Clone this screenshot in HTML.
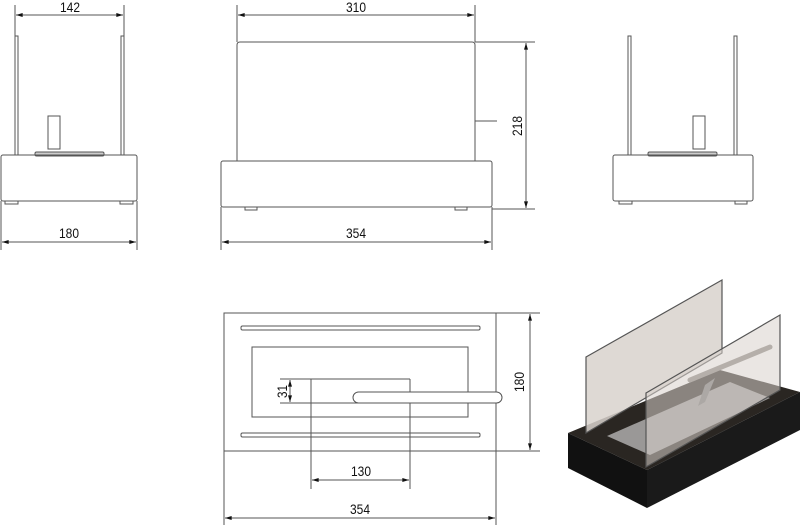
<!DOCTYPE html>
<html><head><meta charset="utf-8"><style>
html,body{margin:0;padding:0;background:#fff;}
svg{display:block}
text{font-family:"Liberation Sans",sans-serif;font-size:14px;fill:#111}
</style></head><body>
<svg width="800" height="528" viewBox="0 0 800 528" xmlns="http://www.w3.org/2000/svg">
<defs>
<marker id="a" viewBox="0 0 10 6" refX="10" refY="3" markerWidth="10" markerHeight="4" orient="auto-start-reverse" markerUnits="userSpaceOnUse"><path d="M0,0L10,3L0,6z" fill="#111"/></marker>
</defs>
<g fill="none" stroke="#555" stroke-width="1">
<!-- Left view -->
<line x1="15" y1="5" x2="15" y2="36"/><line x1="124" y1="5" x2="124" y2="36"/>
<line x1="16" y1="15" x2="123" y2="15" marker-start="url(#a)" marker-end="url(#a)"/>
<rect x="15" y="36" width="3" height="119"/><rect x="121" y="36" width="3" height="119"/>
<rect x="48" y="116" width="12" height="33"/>
<rect x="35" y="152" width="69" height="4" rx="1.5" fill="#ccc"/>
<rect x="1" y="155" width="136" height="46" rx="2"/>
<rect x="5" y="201" width="13" height="3"/><rect x="120" y="201" width="13" height="3"/>
<line x1="1" y1="201" x2="1" y2="250"/><line x1="137" y1="201" x2="137" y2="250"/>
<line x1="2" y1="242" x2="136" y2="242" marker-start="url(#a)" marker-end="url(#a)"/>
<!-- Front view -->
<line x1="237" y1="5" x2="237" y2="42"/><line x1="475" y1="5" x2="475" y2="42"/>
<line x1="238" y1="15" x2="474" y2="15" marker-start="url(#a)" marker-end="url(#a)"/>
<path d="M237,161V45Q237,42 240,42H472Q475,42 475,45V161"/>
<line x1="475" y1="121" x2="497" y2="121"/>
<rect x="221" y="161" width="271" height="46" rx="2"/>
<rect x="245" y="207" width="12" height="3"/><rect x="455" y="207" width="12" height="3"/>
<line x1="475" y1="42" x2="535" y2="42"/><line x1="492" y1="209" x2="535" y2="209"/>
<line x1="526" y1="43" x2="526" y2="208" marker-start="url(#a)" marker-end="url(#a)"/>
<line x1="221" y1="207" x2="221" y2="250"/><line x1="492" y1="207" x2="492" y2="250"/>
<line x1="222" y1="242" x2="491" y2="242" marker-start="url(#a)" marker-end="url(#a)"/>
<!-- Right view -->
<rect x="628" y="36" width="3" height="119"/><rect x="734" y="36" width="3" height="119"/>
<rect x="693" y="116" width="12" height="33"/>
<rect x="648" y="152" width="69" height="4" rx="1.5" fill="#ccc"/>
<rect x="613" y="155" width="140" height="46" rx="2"/>
<rect x="619" y="201" width="13" height="3"/><rect x="735" y="201" width="12" height="3"/>
<!-- Plan view -->
<rect x="224" y="313" width="272" height="138"/>
<rect x="241" y="326" width="239" height="4" rx="1.5"/>
<rect x="241" y="433" width="239" height="4" rx="1.5"/>
<rect x="252" y="347" width="216" height="70"/>
<line x1="280" y1="379" x2="410" y2="379"/><line x1="280" y1="403" x2="410" y2="403"/>
<line x1="311" y1="379" x2="311" y2="489"/><line x1="410" y1="379" x2="410" y2="489"/>
<rect x="353" y="392" width="149" height="11" rx="5.5" fill="#fff"/>
<line x1="290" y1="380" x2="290" y2="402" marker-start="url(#a)" marker-end="url(#a)"/>
<line x1="312" y1="480" x2="409" y2="480" marker-start="url(#a)" marker-end="url(#a)"/>
<line x1="224" y1="451" x2="224" y2="525"/><line x1="496" y1="451" x2="496" y2="525"/>
<line x1="225" y1="518" x2="495" y2="518" marker-start="url(#a)" marker-end="url(#a)"/>
<line x1="496" y1="313" x2="540" y2="313"/><line x1="496" y1="451" x2="540" y2="451"/>
<line x1="530" y1="314" x2="530" y2="450" marker-start="url(#a)" marker-end="url(#a)"/>
</g>
<text x="60" y="12" textLength="20" lengthAdjust="spacingAndGlyphs">142</text>
<text x="59" y="238" textLength="20" lengthAdjust="spacingAndGlyphs">180</text>
<text x="346" y="12" textLength="20" lengthAdjust="spacingAndGlyphs">310</text>
<text x="346" y="238" textLength="20" lengthAdjust="spacingAndGlyphs">354</text>
<text transform="translate(522,126) rotate(-90)" x="-10" textLength="20" lengthAdjust="spacingAndGlyphs">218</text>
<text transform="translate(287,391) rotate(-90)" x="-7" textLength="13" lengthAdjust="spacingAndGlyphs">31</text>
<text x="351" y="476" textLength="20" lengthAdjust="spacingAndGlyphs">130</text>
<text x="350" y="514" textLength="20" lengthAdjust="spacingAndGlyphs">354</text>
<text transform="translate(524,382) rotate(-90)" x="-10" textLength="20" lengthAdjust="spacingAndGlyphs">180</text>
<!-- Iso view -->
<g>
<polygon points="568,433 720,370 800,392 647,470" fill="#2a2622"/>
<polygon points="568,433 647,470 647,508 568,468" fill="#111"/>
<polygon points="647,470 800,392 800,430 647,508" fill="#1a1a1a"/>
<polygon points="607,436 730,382 770,398 650,455" fill="#9a9897"/>
<polygon points="586,357 722,280 722,353 586,433" fill="#d8d2cc" fill-opacity="0.85" stroke="#555" stroke-width="1.2"/>
<line x1="690" y1="380" x2="770" y2="347" stroke="#8a8680" stroke-width="5" stroke-linecap="round"/>
<polygon points="705,385 715,378 705,402 698,406" fill="#777"/>
<polygon points="646,393 780,315 780,390 646,467" fill="#d8d2cc" fill-opacity="0.55" stroke="#555" stroke-width="1.2"/>
</g>
</svg>
</body></html>
